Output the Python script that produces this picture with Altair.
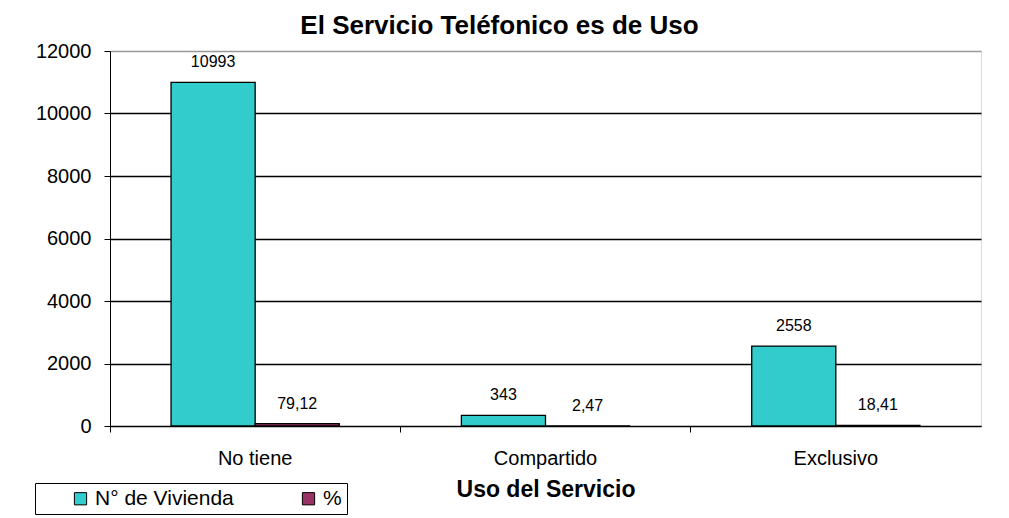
import altair as alt
import pandas as pd

categories = ["No tiene", "Compartido", "Exclusivo"]
viviendas = [10993, 343, 2558]
porcentajes = [79.12, 2.47, 18.41]
porcentaje_labels = ["79,12", "2,47", "18,41"]
series_names = ["N° de Vivienda", "%"]

rows = []
for c, v, p, pl in zip(categories, viviendas, porcentajes, porcentaje_labels):
    rows.append({"cat": c, "serie": series_names[0], "valor": v, "label": str(v)})
    rows.append({"cat": c, "serie": series_names[1], "valor": p, "label": pl})
df = pd.DataFrame(rows)

FONT = "Liberation Sans"

x_enc = alt.X(
    "cat:N",
    sort=categories,
    scale=alt.Scale(paddingInner=0, paddingOuter=0),
    axis=alt.Axis(
        title="Uso del Servicio",
        titleFont=FONT,
        titleFontSize=23,
        titleFontWeight="bold",
        titleColor="black",
        titlePadding=10,
        labelFont=FONT,
        labelFontSize=20,
        labelColor="black",
        labelPadding=16,
        labelAngle=0,
        domainColor="black",
        tickColor="black",
        tickSize=6,
        ticks=True,
        bandPosition=0,
        grid=False,
    ),
)
xoff = alt.XOffset(
    "serie:N",
    sort=series_names,
    scale=alt.Scale(paddingInner=0, paddingOuter=0.726),
)
y_enc = alt.Y(
    "valor:Q",
    scale=alt.Scale(domain=[0, 12000], nice=False),
    axis=alt.Axis(
        title=None,
        values=[0, 2000, 4000, 6000, 8000, 10000, 12000],
        format="d",
        labelFont=FONT,
        labelFontSize=20,
        labelColor="black",
        labelPadding=13,
        tickColor="black",
        tickSize=6,
        domainColor="black",
        grid=True,
        gridColor={"condition": {"test": "datum.value >= 12000", "value": "#999999"}, "value": "black"},
        gridWidth=1.3,
    ),
)

bars = alt.Chart(df).mark_bar(stroke="black", strokeWidth=1.3).encode(
    x=x_enc,
    xOffset=xoff,
    y=y_enc,
    color=alt.Color(
        "serie:N",
        sort=series_names,
        scale=alt.Scale(domain=series_names, range=["#33CCCC", "#993366"]),
        legend=alt.Legend(
            title=None,
            orient="none",
            legendX=-75,
            legendY=432,
            direction="horizontal",
            columns=2,
            columnPadding=34,
            symbolType="square",
            symbolSize=150,
            symbolStrokeColor="black",
            symbolStrokeWidth=1,
            symbolOffset=30,
            labelFont=FONT,
            labelFontSize=21,
            labelColor="black",
            labelOffset=4,
            padding=5,
            strokeColor="black",
            fillColor="white",
            labelExpr="datum.label == '%' ? '%\u00a0\u00a0\u00a0\u00a0\u00a0' : datum.label",
        ),
    ),
)

labels = alt.Chart(df).mark_text(
    baseline="bottom", dy=-12, font=FONT, fontSize=16, color="black"
).encode(
    x=alt.X("cat:N", sort=categories),
    xOffset=xoff,
    y=alt.Y("valor:Q"),
    text="label:N",
)

chart = alt.layer(bars, labels).properties(
    width=871,
    height=375,
    title=alt.TitleParams(
        "El Servicio Teléfonico es de Uso",
        font=FONT,
        fontSize=26,
        fontWeight="bold",
        color="black",
        anchor="middle",
        dx=-46,
        offset=2,
    ),
    autosize=alt.AutoSizeParams(type="none"),
    padding={"left": 102, "top": 43, "right": 20, "bottom": 92},
).configure_view(stroke="#999999", strokeWidth=1.5).configure(background="white")

chart.save("out.html", embed_options={"renderer": "svg", "actions": False})
